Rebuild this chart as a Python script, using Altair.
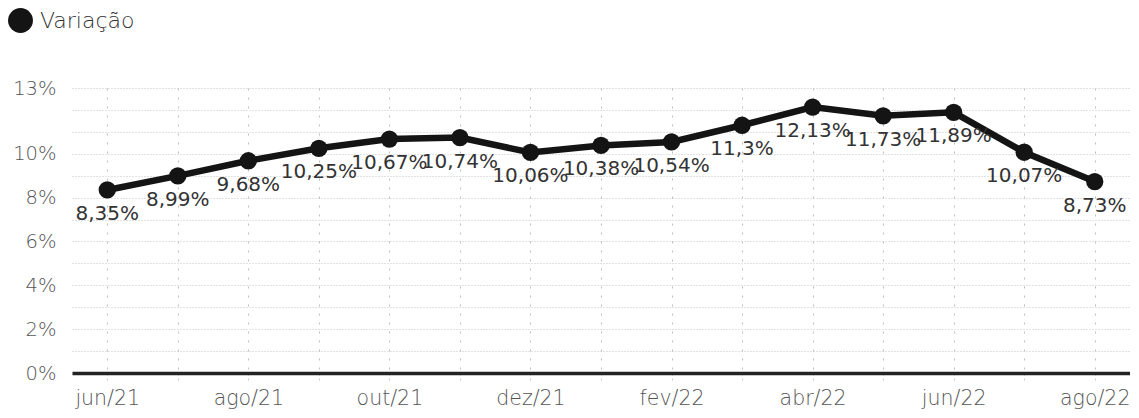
import altair as alt
import pandas as pd

meses = ["jun/21", "jul/21", "ago/21", "set/21", "out/21", "nov/21", "dez/21",
         "jan/22", "fev/22", "mar/22", "abr/22", "mai/22", "jun/22", "jul/22", "ago/22"]
variacao = [8.35, 8.99, 9.68, 10.25, 10.67, 10.74, 10.06,
            10.38, 10.54, 11.3, 12.13, 11.73, 11.89, 10.07, 8.73]
meses_rotulados = ["jun/21", "ago/21", "out/21", "dez/21", "fev/22", "abr/22", "jun/22", "ago/22"]
y_rotulos = [0, 2, 4, 6, 8, 10, 13]
serie = "Variação"

df = pd.DataFrame({
    "mes": meses,
    "valor": variacao,
    "rotulo": [f"{v:g}".replace(".", ",") + "%" for v in variacao],
    "serie": [serie] * len(meses),
})

FONT = "DejaVu Sans"

lab_list = "[" + ",".join(f"'{m}'" for m in meses_rotulados) + "]"
y_list = "[" + ",".join(str(v) for v in y_rotulos) + "]"

x_enc = alt.X(
    "mes:N", sort=meses, title=None,
    scale=alt.Scale(type="point", padding=0.5),
    axis=alt.Axis(
        labelExpr=f"indexof({lab_list}, datum.value) >= 0 ? datum.value : ''",
        labelAngle=0, labelFont=FONT, labelFontSize=20.5, labelFontWeight=200,
        labelColor="#555555", labelPadding=5,
        grid=True, gridColor="#bdbdbd", gridDash=[2, 7], gridWidth=1,
        ticks=True, tickSize=10, tickColor="#c8c8c8", tickDash=[2, 3],
        domain=True, domainColor="#222222", domainWidth=3.5,
    ),
)
y_enc = alt.Y(
    "valor:Q", title=None,
    scale=alt.Scale(domain=[0, 13], nice=False, zero=True),
    axis=alt.Axis(
        values=list(range(14)),
        labelExpr=f"indexof({y_list}, datum.value) >= 0 ? datum.value + '%' : ''",
        labelFont=FONT, labelFontSize=19.5, labelFontWeight=200, labelColor="#555555",
        labelPadding=16, ticks=False, domain=False,
        grid=True, gridColor="#c4c4c4", gridDash=[1, 2], gridWidth=1,
    ),
)

base = alt.Chart(df)

line = base.mark_line(color="#141414", strokeWidth=6.5).encode(x=x_enc, y=y_enc)

points = base.mark_point(filled=True, size=300, opacity=1).encode(
    x=x_enc, y=y_enc,
    color=alt.Color(
        "serie:N",
        scale=alt.Scale(range=["#141414"]),
        legend=alt.Legend(
            orient="none", legendX=-64, legendY=-80, title=None,
            symbolType="circle", symbolSize=620, symbolStrokeWidth=0,
            labelFont=FONT, labelFontSize=22, labelFontWeight=200,
            labelColor="#333333", labelOffset=7, padding=0,
        ),
    ),
)

labels = base.mark_text(
    font=FONT, fontSize=20, color="#333333", dy=24, baseline="middle", align="center"
).encode(x=x_enc, y=y_enc, text="rotulo:N")

chart = (
    alt.layer(line, points, labels)
    .properties(
        width=1058, height=285,
        autosize=alt.AutoSizeParams(type="none"),
        padding={"left": 64, "top": 80, "right": 0, "bottom": 36},
        background="white",
    )
    .configure_view(stroke=None)
)

chart.save("out.html", embed_options={"renderer": "svg", "actions": False})
